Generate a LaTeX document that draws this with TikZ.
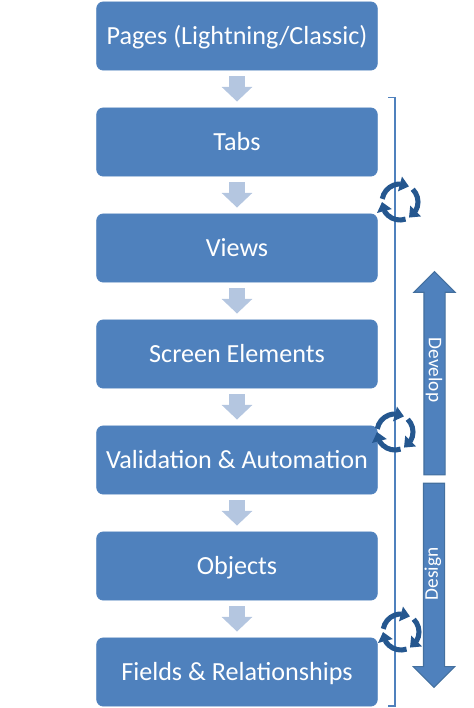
\documentclass[tikz,border=0pt]{standalone}
\usepackage{fontspec}
\setmainfont{Carlito}
\usetikzlibrary{arrows.meta,bending,positioning,shapes.arrows}
\definecolor{boxblue}{HTML}{4F81BD}
\definecolor{boxedge}{HTML}{44709F}
\definecolor{flowblue}{HTML}{B4C6E0}
\definecolor{cycleblue}{HTML}{25578F}

\begin{document}
\begin{tikzpicture}[
  x=0.75pt, y=-0.75pt,
  node distance=27.8pt,
  stage/.style={draw=boxblue, line width=0.5pt, fill=boxblue, rounded corners=5pt, text=white, minimum width=210.5pt, minimum height=51.2pt, inner sep=0pt, text height=14pt, text depth=2pt, font=\fontsize{19.6}{21}\selectfont},
  flow/.style={-{Triangle[width=22.5pt,length=11pt]}, line width=12pt, color=flowblue, shorten <=4.5pt, shorten >=4.5pt},
  bigarrow/.style={draw=boxedge, line width=0.8pt, fill=boxblue, shape=single arrow, single arrow head extend=7.6pt, single arrow head indent=0pt, single arrow tip angle=90, minimum height=#1, minimum width=30.5pt, inner sep=7.5pt},
  bracket/.style={draw=boxblue, line width=0.9pt},
  cyclearc/.style={draw=cycleblue, line width=3.8pt, -{Triangle[width=11pt,length=7pt,flex]}}
]
  \useasboundingbox (0,0) rectangle (474,708);
  \node[stage] (pages) at (237,36) {Pages (Lightning/Classic)};
  \node[stage, below=of pages] (tabs) {Tabs};
  \node[stage, below=of tabs] (views) {Views};
  \node[stage, below=of views] (elements) {Screen Elements};
  \node[stage, below=of elements] (validation) {Validation \& Automation};
  \node[stage, below=of validation] (objects) {Objects};
  \node[stage, below=of objects] (fields) {Fields \& Relationships};

  \draw[flow] (pages) -- (tabs);
  \draw[flow] (tabs) -- (views);
  \draw[flow] (views) -- (elements);
  \draw[flow] (elements) -- (validation);
  \draw[flow] (validation) -- (objects);
  \draw[flow] (objects) -- (fields);

  % bracket beside the stages
  \coordinate (bracketA) at (388,97.5);
  \coordinate (bracketB) at (395,97.5);
  \coordinate (bracketC) at (395,706);
  \coordinate (bracketD) at (388,706);
  \draw[bracket] (bracketA) -- (bracketB) -- (bracketC) -- (bracketD);

  \node[bigarrow=152.5pt, shape border rotate=90] (develop) at (434.5,378.5) {};
  \node[bigarrow=153pt, shape border rotate=270] (design) at (434,580) {};
  \node[rotate=-90, text=white, font=\fontsize{14.5}{16}\selectfont] (developlabel) at (434,370) {Develop};
  \node[rotate=90, text=white, font=\fontsize{14.5}{16}\selectfont] (designlabel) at (433,574) {Design};

  % cycle icons
  \foreach \cx/\cy in {400/202, 395/432, 401/632} {
    \draw[cyclearc] (\cx,\cy) ++(170:13.5pt) arc[start angle=170, end angle=60, radius=13.5pt];
    \draw[cyclearc] (\cx,\cy) ++(45:13.5pt) arc[start angle=45, end angle=-60, radius=13.5pt];
    \draw[cyclearc] (\cx,\cy) ++(-72:13.5pt) arc[start angle=-72, end angle=-180, radius=13.5pt];
  }
\end{tikzpicture}
\end{document}
